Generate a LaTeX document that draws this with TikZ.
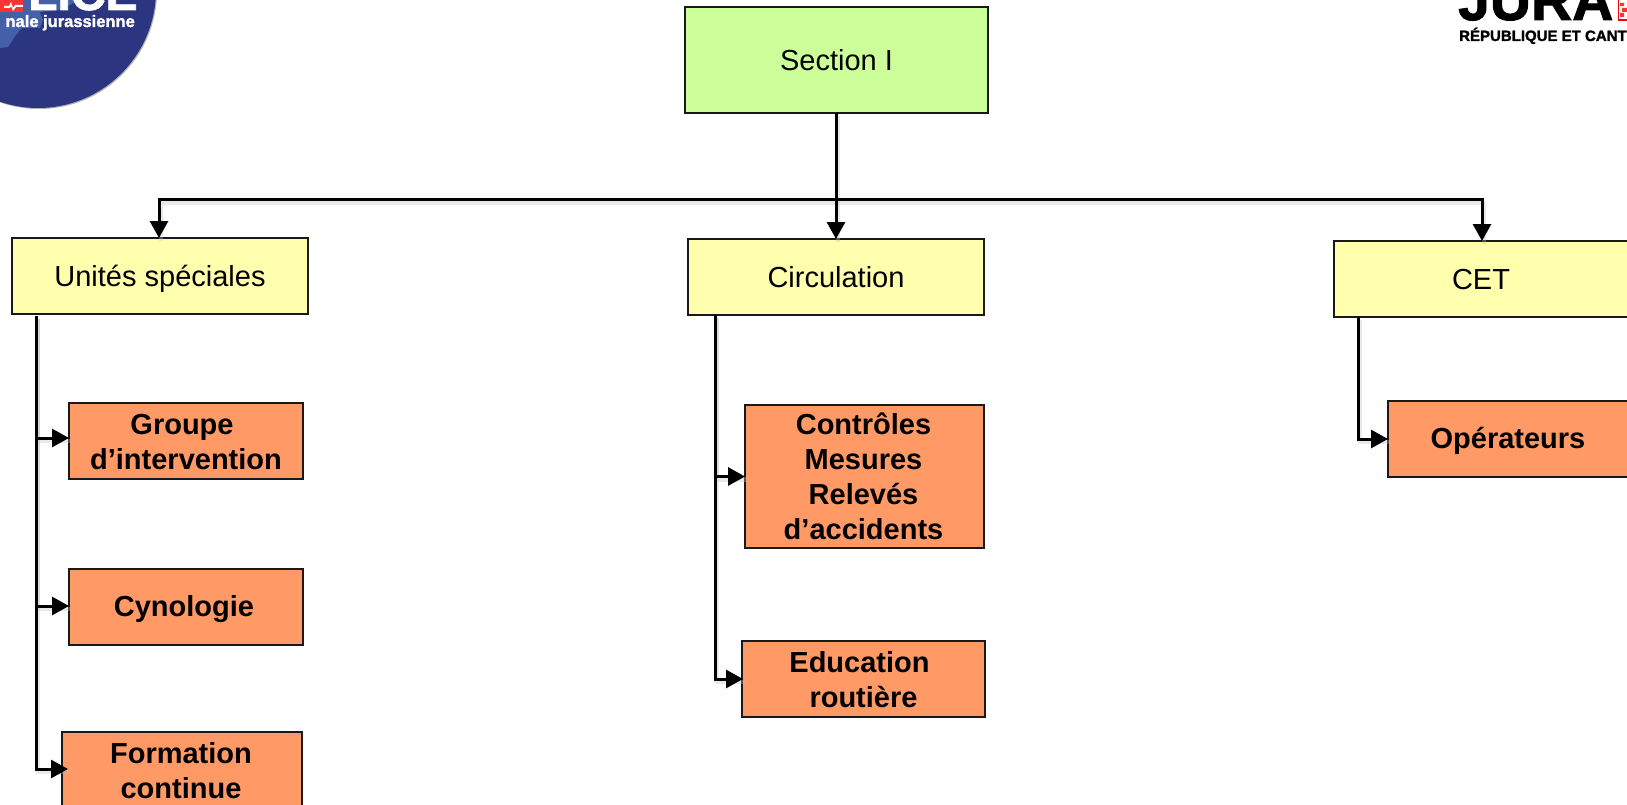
\documentclass[tikz,border=0pt]{standalone}
\usepackage{fontspec}
\setmainfont{Liberation Sans}
\newfontfamily\heavyfont[FakeBold=1.6]{Liberation Sans Bold}
\usetikzlibrary{arrows.meta,calc}
\definecolor{greenbox}{HTML}{CCFF99}
\definecolor{yellowbox}{HTML}{FFFFAD}
\definecolor{orangebox}{HTML}{FF9966}
\definecolor{policeblue}{HTML}{2B3580}
\definecolor{maplight}{HTML}{4460A8}
\tikzset{
  x=1pt,y=-1pt,
  basebox/.style={draw=black!90,line width=2pt,anchor=north west,inner sep=0pt,outer sep=0pt,xshift=1pt,yshift=-1pt},
  greennode/.style={basebox,fill=greenbox},
  yellownode/.style={basebox,fill=yellowbox},
  orangenode/.style={basebox,fill=orangebox},
  plaintext/.style={inner sep=0pt,outer sep=0pt,align=center,anchor=center,text height=21pt,text depth=0pt,font=\fontsize{29}{35}\selectfont},
  boldtext/.style={inner sep=0pt,outer sep=0pt,align=center,anchor=center,font=\fontsize{29}{35}\selectfont\bfseries},
  conn/.style={line width=3pt,-{Triangle[length=17pt,width=18pt]}},
  connshadow/.style={draw=black!25,opacity=.35,line width=4.5pt,transform canvas={shift={(2pt,-3pt)}}},
}
% style, name, x1,y1,x2,y2
\newcommand{\boxnode}[6]{\node[#1,minimum width=#5pt-#3pt,minimum height=#6pt-#4pt] (#2) at (#3,#4) {};}
\newcommand{\allconn}[1]{%
\draw[#1] (sec.south -| bus) -- (bus |- cir.north);
\draw[#1] (bus) -- (busL) -- (busL |- uni.north);
\draw[#1] (bus) -- (busR) -- (busR |- cet.north);
\draw[#1] (tu) |- (grotip);
\draw[#1] (tu) |- (cyntip);
\draw[#1] (tu) |- (fortip);
\draw[#1] (tc) |- (con.west);
\draw[#1] (tc) |- (edutip);
\draw[#1] (tk) |- (ope.west);
}
\begin{document}
\begin{tikzpicture}
\useasboundingbox (0,0) rectangle (1627,805);
\begin{scope}
\clip (0,0) rectangle (1627,805);
% police logo
\fill[black!30] (39,-9) circle (118);
\fill[policeblue] (38,-10) circle (118);
\fill[maplight] (0,48) -- (8,47) -- (16,35) -- (22,28) -- (40,28) -- (43,20) -- (40,12) -- (60,10) -- (80,0) -- (0,0) -- cycle;
\fill[red!80!white] (0,0) rectangle (23,12);
\fill[white] (4,6) -- (9,6) -- (11,2) -- (13,8) -- (15,5) -- (23,5) -- (23,7) -- (16,7) -- (13,11) -- (11,6) -- (10,8) -- (4,8) -- cycle;
\node[anchor=base west,inner sep=0pt,font=\fontsize{48}{48}\heavyfont,text=white] (policetext) at (28,10) {LICE};
\node[anchor=base east,inner sep=0pt,font=\fontsize{16.5}{18}\heavyfont,text=white] (policesub) at (135,27) {nale jurassienne};
% canton logo
\node[anchor=base west,inner sep=0pt,font=\fontsize{57}{57}\heavyfont] (juratext) at (1458,20) {JURA};
\fill[white] (1618,0) rectangle (1627,20);
\draw[red,line width=1.2pt] (1618.5,-2) -- (1618.5,20) -- (1630,20);
\fill[red!80] (1620,3) rectangle (1624,6) (1622,8) rectangle (1627,12) (1620,13) rectangle (1624,17);
\node[anchor=base west,inner sep=0pt,font=\fontsize{15}{17}\heavyfont] (juraline) at (1459,41) {RÉPUBLIQUE ET CANT};
% boxes
\boxnode{greennode}{sec}{684}{6}{987}{112}
\boxnode{yellownode}{uni}{11}{237}{307}{313}
\boxnode{yellownode}{cir}{687}{238}{983}{314}
\boxnode{yellownode}{cet}{1333}{240}{1640}{316}
\boxnode{orangenode}{gro}{68}{402}{302}{478}
\boxnode{orangenode}{cyn}{68}{568}{302}{644}
\boxnode{orangenode}{for}{61}{731}{301}{815}
\boxnode{orangenode}{con}{744}{404}{983}{547}
\boxnode{orangenode}{edu}{741}{640}{984}{716}
\boxnode{orangenode}{ope}{1387}{400}{1640}{476}
% labels
\node[plaintext] (sect) at (sec) {Section I};
\node[plaintext] (unit) at (uni) {Unités spéciales};
\node[plaintext] (cirt) at (cir) {Circulation};
\node[plaintext,xshift=-6.5pt] (cett) at (cet) {CET};
\node[boldtext,yshift=-1.5pt] (grot) at (gro) {Groupe\hspace*{8pt}\\d’intervention};
\node[boldtext,yshift=-2pt,xshift=-2pt] (cynt) at (cyn) {Cynologie};
\node[boldtext,yshift=3pt,xshift=-1pt] (fort) at (for) {Formation\\continue};
\node[boldtext,xshift=-1pt] (cont) at (con) {Contrôles\\Mesures\\Relevés\hspace*{2pt}\\d’accidents};
\node[boldtext,yshift=-0.5pt] (edut) at (edu) {Education\hspace*{8pt}\\routière};
\node[boldtext,yshift=-2pt,xshift=-6.5pt] (opet) at (ope) {Opérateurs};
% connectors
\coordinate (bus) at (836,200);
\coordinate (busL) at (159,200);
\coordinate (busR) at (1482,200);
\coordinate (tu) at (36,316);
\coordinate (tc) at (715,315);
\coordinate (tk) at (1358,317);
\coordinate (grotip) at (69,438);
\coordinate (cyntip) at (69,606);
\coordinate (fortip) at (68,769);
\coordinate (edutip) at (743,679);
\allconn{connshadow}
\allconn{conn}
\end{scope}
\end{tikzpicture}
\end{document}
